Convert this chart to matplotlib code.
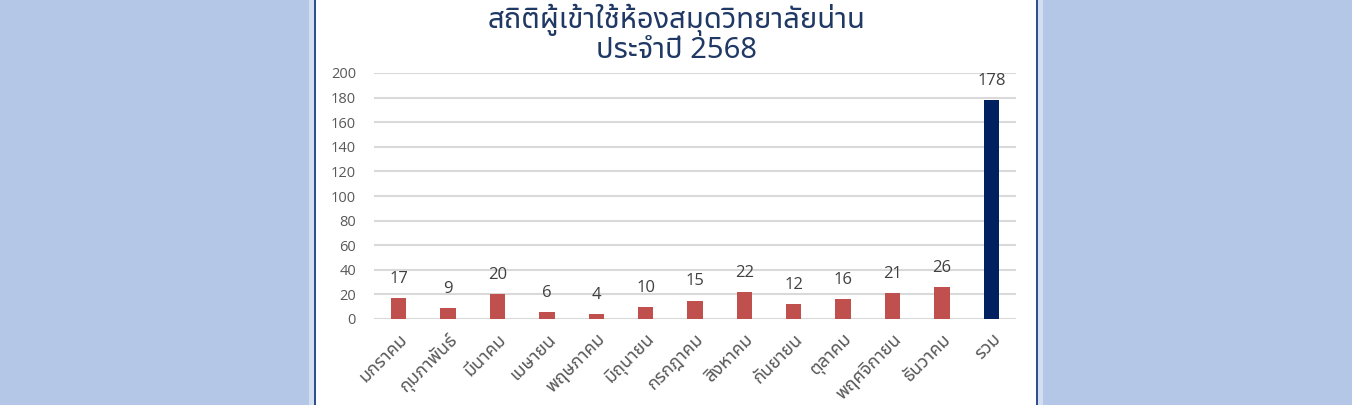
import matplotlib
matplotlib.use("Agg")
import matplotlib.pyplot as plt
from matplotlib.patches import Rectangle

# monthly visitors, 2568
months = ["มกราคม", "กุมภาพันธ์", "มีนาคม", "เมษายน", "พฤษภาคม", "มิถุนายน",
          "กรกฎาคม", "สิงหาคม", "กันยายน", "ตุลาคม", "พฤศจิกายน", "ธันวาคม", "รวม"]
visitors = [17, 9, 20, 6, 4, 10, 15, 22, 12, 16, 21, 26, 178]
yticks = [0, 20, 40, 60, 80, 100, 120, 140, 160, 180, 200]

thai = ["Noto Sans Thai UI", "Noto Sans"]
num_font = ["Open Sans", "DejaVu Sans"]

fig = plt.figure(figsize=(13.52, 4.05), dpi=100)
fig.patch.set_facecolor("#B4C7E7")

W, H = 1352, 405
# white panel with dark frame lines on both sides
for x0, w, c in [(309, 734, "#D3DEF1"), (314, 724, "#2F4F8F"), (316, 720, "white")]:
    fig.patches.append(Rectangle((x0 / W, 0), w / W, 1, transform=fig.transFigure,
                                 facecolor=c, edgecolor="none", zorder=-1))

ax = fig.add_axes([374 / W, 86 / H, 642 / W, 246 / H])
ax.set_facecolor("none")

colors = ["#C0504D"] * (len(months) - 1) + ["#002060"]
x = range(len(months))
bars = ax.bar(x, visitors, width=0.31, color=colors, zorder=3)

for b, v in zip(bars, visitors):
    ax.annotate(str(v), (b.get_x() + b.get_width() / 2, v), xytext=(0, 8),
                textcoords="offset points", ha="center", va="bottom",
                fontsize=12, color="#404040", family=num_font)

ax.set_xlim(-0.5, len(months) - 0.5)
ax.set_ylim(0, 200)
ax.set_yticks(yticks)
ax.grid(axis="y", color="#D9D9D9", linewidth=1.5, zorder=0)
ax.set_axisbelow(True)
for s in ax.spines.values():
    s.set_visible(False)

ax.tick_params(axis="y", length=0, pad=13, labelsize=10.5, labelcolor="#595959")
for t in ax.get_yticklabels():
    t.set_family(num_font)

ax.set_xticks(list(x))
ax.set_xticklabels(months, rotation=45, ha="right", rotation_mode="anchor",
                   family=thai, fontsize=13, color="#595959")
ax.tick_params(axis="x", length=0, pad=8)

fig.text(677 / W, 1 - 20 / H, "สถิติผู้เข้าใช้ห้องสมุดวิทยาลัยน่าน", ha="center", va="center",
         fontsize=21, color="#1F3864", family=thai, fontweight="semibold")
fig.text(677 / W, 1 - 51 / H, "ประจำปี 2568", ha="center", va="center",
         fontsize=21, color="#1F3864", family=thai, fontweight="semibold")

fig.savefig("out.png", dpi=100, facecolor=fig.get_facecolor())
